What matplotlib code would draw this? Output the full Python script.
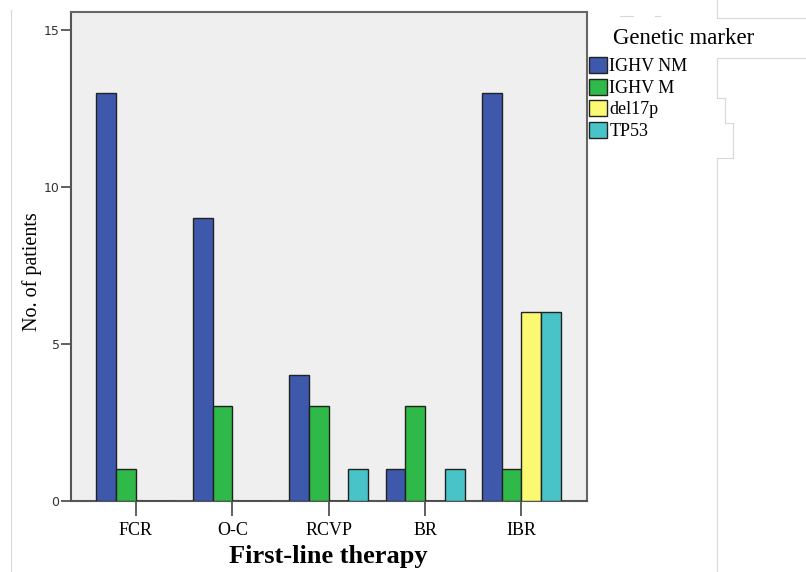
import numpy as np
import matplotlib
matplotlib.use("Agg")
import matplotlib.pyplot as plt
from matplotlib.lines import Line2D

# Data
therapies = ["FCR", "O-C", "RCVP", "BR", "IBR"]
ighv_nm = [13, 9, 4, 1, 13]
ighv_m = [1, 3, 3, 3, 1]
del17p = [0, 0, 0, 0, 6]
tp53 = [0, 0, 1, 1, 6]

series = [ighv_nm, ighv_m, del17p, tp53]
labels = ["IGHV NM", "IGHV M", "del17p", "TP53"]
colors = ["#3E58AC", "#2FB948", "#FBF872", "#48C4C8"]

serif = "Liberation Serif"

fig = plt.figure(figsize=(8.06, 5.72), dpi=100)
ax = fig.add_axes([0.0877, 0.1247, 0.6405, 0.854])
ax.set_facecolor("#EFEFEF")

x = np.arange(len(therapies))
w = 0.205
for i, (vals, lab, col) in enumerate(zip(series, labels, colors)):
    ax.bar(x + (i - 1.5) * w, vals, width=w, color=col, edgecolor="#222222",
           linewidth=1.0, label=lab, zorder=3)

ax.set_xlim(-0.677, 4.68)
ax.set_ylim(0, 15.56)
ax.set_yticks([0, 5, 10, 15])
ax.set_xticks(x)
ax.set_xticklabels(therapies, fontfamily=serif, fontsize=13)
ax.tick_params(axis="x", length=11, width=1.2, color="#444444", pad=4)
ax.tick_params(axis="y", length=7, width=1.2, color="#444444", labelsize=9,
               labelcolor="#333333", pad=1)

for side in ["left", "right", "top", "bottom"]:
    ax.spines[side].set_color("#666666")
    ax.spines[side].set_linewidth(1.5)
ax.spines["left"].set_color("#555555")
ax.spines["bottom"].set_color("#555555")

ax.set_ylabel("No. of patients", fontfamily=serif, fontsize=14.5)
ax.yaxis.set_label_coords(-0.056, 0.468)
ax.set_xlabel("First-line therapy", fontfamily=serif, fontsize=19,
              fontweight="bold", labelpad=5)

# legend outside the plot, title as separate text
fig.text(613 / 806, 1 - 39 / 572, "Genetic marker", fontfamily=serif,
         fontsize=16.5, va="center", ha="left")
leg = fig.legend(loc="upper left", bbox_to_anchor=(589 / 806, 1 - 57 / 572),
                 frameon=False, prop={"family": serif, "size": 13},
                 handlelength=1.0, handleheight=1.0, handletextpad=0.12,
                 labelspacing=0.18, borderpad=0, borderaxespad=0)
for p in leg.get_patches():
    p.set_edgecolor("#222222")

# faint crop lines of the original image
gray = "#D8D8D8"
px = lambda xs, ys: ([v / 806 for v in xs], [1 - v / 572 for v in ys])
for xs, ys in [
    ([717, 717], [0, 18]), ([717, 806], [18, 18]),
    ([717, 806], [58, 58]), ([717, 717], [58, 98]),
    ([717, 725], [98, 98]), ([725, 725], [98, 123]),
    ([725, 733], [123, 123]), ([733, 733], [123, 158]),
    ([717, 733], [158, 158]), ([717, 717], [158, 572]),
    ([620, 633], [16, 16]), ([655, 660], [16, 16]),
    ([11, 11], [10, 572]),
]:
    fx, fy = px(xs, ys)
    fig.add_artist(Line2D(fx, fy, color=gray, linewidth=0.8))

plt.savefig("out.png", dpi=100)
